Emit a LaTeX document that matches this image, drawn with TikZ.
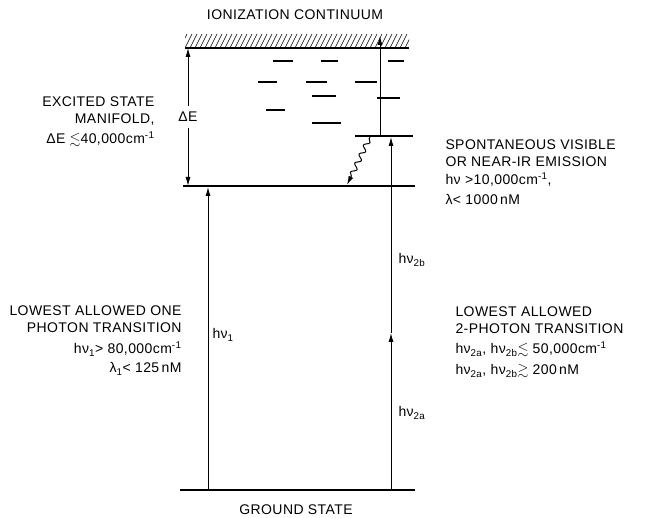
\documentclass[tikz,border=0pt]{standalone}
\usepackage{amsmath,amssymb}
\usepackage{fontspec}
\setmainfont{Liberation Sans}[LetterSpace=3]
\usepackage{tikz}
\usetikzlibrary{arrows.meta, decorations.pathmorphing, positioning}

\begin{document}
\begin{tikzpicture}[x=1pt, y=-1pt, line width=1pt,
    font=\fontsize{14}{17}\selectfont,
    level/.style={line width=1.3pt},
    arr/.style={-{Latex[length=9pt,width=5pt]}},
    lbl/.style={inner sep=0pt}]
    \useasboundingbox (0,0) rectangle (646,518);
    % energy levels
    \draw[level] (180,490) -- (415,490);
    \draw[level] (183,186) -- (415,186);
    \draw[level] (355,136) -- (413,136);
    \draw[level] (185,48) -- (409,48);
    \begin{scope}
        \clip (185,34) rectangle (409,48);
        \foreach \x in {180,185,...,410}
            \draw[line width=0.6pt] (\x,48) -- (\x+7,34);
    \end{scope}
    \foreach \a/\b/\y in {273/293/61, 321/338/61, 388/404/61, 258/277/82, 306/327/82,
                          355/377/82, 312/336/96, 377/400/98, 266/285/110, 312/341/123}
        \draw[level] (\a,\y) -- (\b,\y);
    % points on the levels
    \coordinate (g1) at (208,490);
    \coordinate (e1) at (208,187);
    \coordinate (g2) at (391,490);
    \coordinate (m2) at (391,333);
    \coordinate (u2) at (391,137);
    \coordinate (u3) at (380,136);
    \coordinate (c3) at (380,36);
    \coordinate (w1) at (370,137);
    \coordinate (w2) at (347,185);
    \coordinate (dEtop) at (188,48);
    \coordinate (dEbot) at (188,186);
    % labels
    \node[lbl, anchor=base] (ion) at (295,20) {IONIZATION CONTINUUM};
    \node[lbl, anchor=base] (gnd) at (296,515) {GROUND STATE};
    \node[inner sep=6pt] (dE) at (188,117) {ΔE};
    \node[lbl, align=right, anchor=base east] (exc) at (155,144)
        {EXCITED STATE\\MANIFOLD,\\[3pt]ΔE $\lesssim$40,000cm\textsuperscript{-1}};
    \node[lbl, align=right, anchor=base east] (one) at (182,373)
        {LOWEST ALLOWED ONE\\PHOTON TRANSITION\\[4pt]hν\textsubscript{1}> 80,000cm\textsuperscript{-1}\\[2pt]λ\textsubscript{1}< 125\,nM};
    \node[lbl, align=left, anchor=base west] (spon) at (445,205)
        {SPONTANEOUS VISIBLE\\OR NEAR-IR EMISSION\\[1pt]hν >10,000cm\textsuperscript{-1},\\[3pt]λ< 1000\,nM};
    \node[lbl, align=left, anchor=base west] (two) at (455,375)
        {LOWEST ALLOWED\\2-PHOTON TRANSITION\\[3pt]hν\textsubscript{2a}, hν\textsubscript{2b}$\lesssim$ 50,000cm\textsuperscript{-1}\\[4pt]hν\textsubscript{2a}, hν\textsubscript{2b}$\gtrsim$ 200\,nM};
    \node[lbl, anchor=west] (h1) at (212,335) {hν\textsubscript{1}};
    \node[lbl, anchor=west] (h2b) at (398,260) {hν\textsubscript{2b}};
    \node[lbl, anchor=west] (h2a) at (398,413) {hν\textsubscript{2a}};
    % transitions
    \draw[arr] (dE) -- (dEtop);
    \draw[arr] (dE) -- (dEbot);
    \draw[arr] (g1) -- (e1);
    \draw[arr] (g2) -- (m2);
    \draw[arr] (m2) -- (u2);
    \draw[arr] (u3) -- (c3);
    \draw[arr, decorate, decoration={snake, amplitude=2.5pt, segment length=10pt,
        pre length=2pt, post length=7pt}] (w1) -- (w2);
\end{tikzpicture}
\end{document}
